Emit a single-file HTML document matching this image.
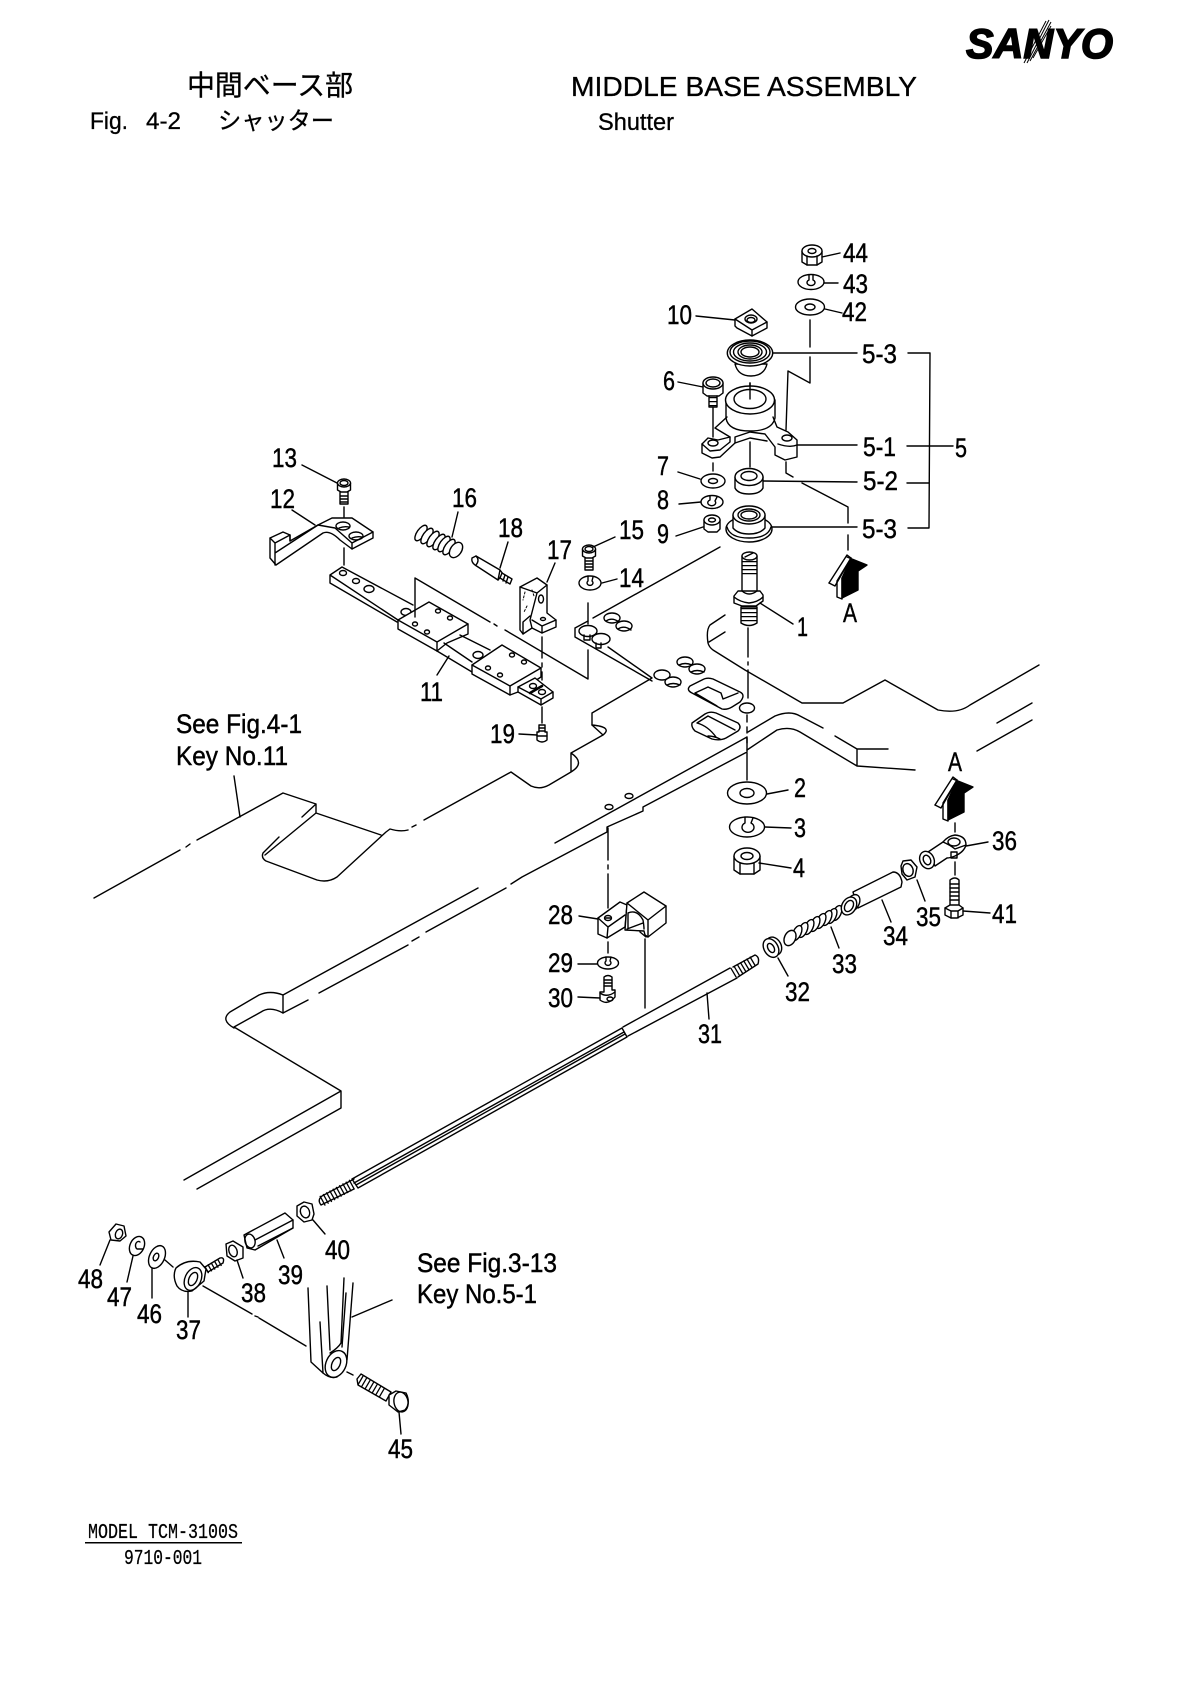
<!DOCTYPE html>
<html><head><meta charset="utf-8"><title>Middle Base Assembly - Shutter</title>
<style>
html,body{margin:0;padding:0;background:#fff}
svg{display:block}
.l{fill:none;stroke:#000;stroke-width:1.4;stroke-linejoin:round;stroke-linecap:round}
.l .w,.w{fill:#fff}
text{font-family:"Liberation Sans","Noto Sans CJK JP",sans-serif;fill:#000;stroke:none}
.n text{font-size:27px;stroke:#000;stroke-width:.45}
.h{stroke:#000;stroke-width:.3}
.m{font-family:"Liberation Mono",monospace;font-size:21px;stroke:#000;stroke-width:.25}
</style></head><body>
<svg xmlns="http://www.w3.org/2000/svg" width="1190" height="1682" viewBox="0 0 1190 1682">

<!-- Header -->
<text class="h" x="187" y="95" font-size="28" textLength="166" lengthAdjust="spacingAndGlyphs">中間ベース部</text>
<text class="h" x="571" y="96" font-size="28" textLength="346" lengthAdjust="spacingAndGlyphs">MIDDLE BASE ASSEMBLY</text>
<text class="h" x="90" y="129" font-size="24" textLength="38" lengthAdjust="spacingAndGlyphs">Fig.</text>
<text class="h" x="146" y="129" font-size="24" textLength="35" lengthAdjust="spacingAndGlyphs">4-2</text>
<text class="h" x="218" y="129" font-size="24" textLength="116" lengthAdjust="spacingAndGlyphs">シャッター</text>
<text class="h" x="598" y="130" font-size="24" textLength="76" lengthAdjust="spacingAndGlyphs">Shutter</text>
<text x="966" y="58" font-size="42" font-weight="bold" font-style="italic" stroke="#000" stroke-width="1.500" style="stroke:#000;stroke-width:1.5" textLength="147" lengthAdjust="spacingAndGlyphs">SANYO</text>
<g stroke="#000" stroke-width="1"><line x1="1024" y1="63" x2="1046" y2="21"/><line x1="1027" y1="63" x2="1049" y2="20"/><line x1="1030" y1="61" x2="1051" y2="22"/><line x1="1033" y1="58" x2="1051" y2="26"/></g>

<g class="l">
<!-- Left base plate -->
<path d="M94,898L180,850M186,847L190,844M197,840L283,793L316,804V813L381,835M316,804L302,817M279,837L263,853Q261,858 266,861L317,880Q328,883 337,877L386,832L390,829Q400,832 408,830M412,827L416,825M424,820L511,772L531,786Q540,790 549,785L571,772V753Q586,763 571,772M571,753L603,735L592,725M316,813L265,855"/>
<path d="M592,713V725Q613,727 603,735M592,713L652,678L608,647M575,628V637L652,681M575,628L588,621M593,618L720,547"/>
<!-- Main diagonal -->
<path d="M747,737L555,843M478,888L283,995V1013L308,1000M319,993L408,945M412,941L419,937M426,932L506,888M511,884L522,877L607,832V827L643,811V807L747,752V737"/>
<path d="M283,995Q270,990 259,995L230,1012Q220,1020 234,1028M283,1013Q270,1006 261,1012L234,1027L341,1091V1108L197,1189M341,1091L184,1180"/>
<!-- Right contour -->
<path d="M725,615L710,625Q706,630 708,643Q709,647 713,650L745,670L802,703H843L885,680L938,710Q958,714 970,705L1039,665M725,632L709,642M1032,703L997,723M1032,720L977,751"/>
<path d="M748,732L775,716Q790,710 800,716L823,728M835,736L857,749H888M747,750L777,730Q790,726 800,732L857,766V749M857,766L915,770"/>
<!-- plate holes -->
<ellipse cx="612" cy="618" rx="8" ry="5"/><path d="M606,621Q612,617 619,622"/>
<ellipse cx="624" cy="626" rx="8" ry="5"/><path d="M618,629Q624,625 631,630"/>
<ellipse cx="588" cy="631" rx="9" ry="5.500"/><ellipse cx="601" cy="639" rx="9" ry="5.500"/>
<path d="M584,635V640H590V635M596,643V648H601V643"/>
<ellipse cx="685" cy="662" rx="8" ry="5"/><ellipse cx="697" cy="669" rx="8" ry="5"/><path d="M679,665Q685,662 692,665M691,672Q697,669 704,672"/>
<ellipse cx="662" cy="675" rx="8" ry="5"/><ellipse cx="673" cy="682" rx="8" ry="5"/><path d="M667,685Q673,682 680,685"/>
<path d="M690,686Q686,690 692,693L722,709Q727,710 732,707L740,702Q746,695 740,692L713,679Q707,677 702,680ZM695,693L708,687L721,693L723,699L738,693M695,693L717,706"/>
<path d="M692,723Q691,727 695,731L712,739Q720,741 726,738L738,731Q742,727 738,723L716,713Q710,711 705,714ZM697,723L708,716L735,730M697,723Q708,726 716,737M708,736Q714,736 720,739"/>
<ellipse cx="609" cy="807" rx="4" ry="2.500"/><ellipse cx="629" cy="796" rx="4" ry="2.500"/>

<!-- Stack centre lines -->
<path d="M810,320V347M810,357V383L788,371L786,430M786,462V473L793,477M802,483L848,507V523M848,535V550"/>
<path d="M750,383V399M750,442V467M713,408V437M713,463V471"/>
<path d="M748,628V657M748,662V665M748,670V698M747,715V722M747,727V733M747,738V743M747,753V780"/>
<path d="M955,823V832M955,862V875M608,828V860M608,865V869M608,874V908M608,942V953M645,939V1008"/>

<!-- 44 43 42 -->
<path class="w" d="M802,251V262L807,265H817L822,262V251Z"/><ellipse class="w" cx="812" cy="251" rx="10" ry="6"/><ellipse cx="812" cy="251" rx="4" ry="2.500"/><path d="M807,256V265M817,256V265"/>
<ellipse cx="811" cy="282" rx="13" ry="7.500"/><path d="M809,275V280A4,3 0 1 0 813,280V275"/>
<ellipse cx="810" cy="307" rx="14.500" ry="8"/><ellipse cx="810" cy="307" rx="5" ry="3"/>
<path d="M822,257L840,253M824,283L838,283M825,309L842,313"/>

<!-- 10 -->
<path class="w" d="M735,319L752,309L767,322V328L752,336L737,328L735,326Z"/>
<path d="M735,319L752,330L767,322M752,330V336"/><ellipse cx="751" cy="319" rx="6" ry="4"/><ellipse cx="751" cy="320" rx="4" ry="2.500"/>
<path d="M696,316L735,320"/>

<!-- 5-3 top -->
<path class="w" d="M735,364Q738,376 751,376Q764,376 767,364Z"/>
<ellipse class="w" cx="750" cy="353" rx="22.700" ry="13"/><ellipse cx="750" cy="352" rx="20" ry="11"/><ellipse cx="750" cy="352" rx="16.500" ry="9"/><ellipse cx="750" cy="352" rx="12" ry="7"/><ellipse cx="750" cy="352" rx="9" ry="5"/>
<path d="M773,353L857,353"/>

<!-- 5-1 -->
<path class="w" d="M726,400V418Q728,431 750,431Q772,431 775,418V400Z"/>
<ellipse class="w" cx="750" cy="400" rx="24.500" ry="14"/><ellipse cx="750" cy="399" rx="16" ry="9.500"/>
<path d="M750,383V399"/>
<path d="M727,417L715,428L730,437V442L720,450L710,451L702,444V453L712,458L720,457L735,443V437L750,432L765,434L775,447V455L785,460L797,457V440L788,432L777,427L773,417"/>
<path d="M702,444L708,438L718,440L730,437M735,443L750,438L767,441M797,445Q790,448 778,444"/>
<ellipse cx="787" cy="438" rx="5" ry="3"/><ellipse cx="713" cy="443" rx="5" ry="3"/>
<path d="M797,445L857,445"/>

<!-- 6 -->
<path class="w" d="M703,383V393L707,396H719L723,393V383Z"/><ellipse class="w" cx="713" cy="383" rx="10" ry="6"/><ellipse cx="713" cy="383" rx="7" ry="4"/>
<path d="M709,396V407H717V396"/><line x1="713" y1="397" x2="713" y2="407" stroke-width="9" stroke-dasharray="1.300 2.700" stroke-linecap="butt"/>
<path d="M678,382L703,387"/>

<!-- 7 8 9 -->
<ellipse cx="713" cy="481" rx="12" ry="7"/><ellipse cx="713" cy="481" rx="4.500" ry="2.500"/>
<ellipse cx="712" cy="502" rx="11" ry="6.500"/><path d="M710,496V500A4,3 0 1 0 715,501L717,497"/>
<path class="w" d="M704,520V529L708,532H717L720,529V520Z"/><ellipse class="w" cx="712" cy="520" rx="8" ry="5"/><ellipse cx="712" cy="520" rx="3.500" ry="2"/>
<path d="M678,472L700,479M679,504L701,502M676,536L703,527"/>

<!-- 5-2 -->
<path class="w" d="M735,477V488Q738,494 749,494Q760,494 763,488V477Z"/><ellipse class="w" cx="749" cy="477" rx="14" ry="8.500"/><ellipse cx="749" cy="476" rx="8" ry="4.500"/>
<path d="M763,481L857,482"/>

<!-- 5-3 bottom -->
<ellipse class="w" cx="749" cy="529" rx="23" ry="13"/><path d="M727,527Q730,538 749,538Q768,538 771,527"/>
<path class="w" d="M733,515V528Q738,534 749,534Q760,534 765,528V515Z"/><ellipse class="w" cx="749" cy="515" rx="16" ry="9"/><ellipse cx="749" cy="515" rx="11" ry="6"/><ellipse cx="749" cy="515" rx="8" ry="4"/>
<path d="M772,527L857,527"/>

<!-- bracket -->
<path d="M908,353H930L929,528H908M907,446H953M907,483H929"/>

<!-- Stud 1 -->
<path class="w" d="M742,556V593H757V556Z"/><ellipse class="w" cx="749.500" cy="556" rx="7.500" ry="4"/><path d="M745,557L753,553"/>
<line x1="749.500" y1="561" x2="749.500" y2="577" stroke-width="14" stroke-dasharray="1.300 2.700" stroke-linecap="butt"/>
<path class="w" d="M741,607V623Q749,628 757,623V607Z"/>
<line x1="749" y1="608" x2="749" y2="624" stroke-width="15" stroke-dasharray="1.300 2.700" stroke-linecap="butt"/>
<path class="w" d="M734,596L738,591H760L763,595V601L756,606H742L734,603Z"/><path d="M734,597Q740,602 749,603Q758,602 763,597M742,591Q749,597 757,591"/>
<path d="M760,603L793,624"/>
<ellipse cx="747" cy="708" rx="7.500" ry="5"/>

<!-- 2 3 4 -->
<ellipse cx="747" cy="793" rx="19.500" ry="11"/><ellipse cx="747" cy="793" rx="7" ry="4.500"/>
<ellipse cx="747" cy="827" rx="17.500" ry="10"/><path d="M745,817V823A6,5 0 1 0 751,823L753,818"/>
<path class="w" d="M734,856V870L740,874H754L760,870V856Z"/><ellipse class="w" cx="747" cy="856" rx="13" ry="8"/><ellipse cx="747" cy="856" rx="6" ry="3.500"/><path d="M740,863V874M754,863V874"/>
<path d="M767,794L788,790M765,827L791,828M759,863L791,868"/>

<!-- 13 -->
<path class="w" d="M337.500,483V490L341,492H347L350.500,490V483Z"/><ellipse class="w" cx="344" cy="483" rx="6.500" ry="4"/><ellipse cx="344" cy="483" rx="4" ry="2.500"/>
<path d="M340,492V504H348V492M340,496H348M340,499H348M340,502H348M302,465L337,483M344,507V517M344,548V565"/>

<!-- 12 -->
<path class="w" d="M270,538L283,532L290,535V541L318,525L332,518H352L373,532V538L352,549L340,540Q330,530 323,533L276,565L270,558Z"/>
<path d="M270,538L275,543V565M275,543L290,535M275,553L318,525M373,532L352,543L335,528L318,525M352,543V549M290,541L290,535"/>
<ellipse cx="343" cy="526" rx="7" ry="4"/><ellipse cx="356" cy="536" rx="7" ry="4"/><path d="M339,528Q344,526 349,527M352,538Q357,536 362,537"/>
<path d="M292,510L315,525"/>

<!-- 11 rail -->
<path d="M330,575L342,567L413,605M330,575V583L397,622M330,575L398,620"/>
<ellipse cx="343" cy="573" rx="3.500" ry="2.500"/><ellipse cx="356" cy="581" rx="3.500" ry="2.500"/><ellipse cx="369" cy="589" rx="5" ry="3.500"/><ellipse cx="406" cy="612" rx="5" ry="3.500"/>
<path class="w" d="M398,620L429,602L468,624V634L447,643L437,651L398,629Z"/><path d="M398,620L437,642L468,624M437,642V651"/>
<ellipse cx="415" cy="624" rx="2.500" ry="2"/><ellipse cx="427" cy="632" rx="2.500" ry="2"/><ellipse cx="438" cy="611" rx="2.500" ry="2"/><ellipse cx="450" cy="618" rx="2.500" ry="2"/>
<path d="M444,643L472,662M437,651L472,672M460,635L490,650"/><ellipse cx="478" cy="655" rx="5" ry="3.500"/>
<path class="w" d="M472,665L502,645L541,668V677L518,692L510,695L472,674Z"/><path d="M472,665L510,686L541,668M510,686V695"/>
<ellipse cx="488" cy="668" rx="2.500" ry="2"/><ellipse cx="500" cy="675" rx="2.500" ry="2"/><ellipse cx="512" cy="655" rx="2.500" ry="2"/><ellipse cx="524" cy="662" rx="2.500" ry="2"/>
<path class="w" d="M518,687L535,678L553,692V698L541,705L518,692Z"/><path d="M518,687L541,699L553,692M541,699V705"/>
<ellipse cx="533" cy="686" rx="3.500" ry="2.500"/><ellipse cx="542" cy="692" rx="3.500" ry="2.500"/>
<path d="M530,693L542,686" stroke-width="2.600"/>
<path d="M449,656L437,675"/>
<path d="M415,617V578L490,622M494,624L497,626M505,630L588,679V650M542,637V658M542,663V667M542,672V680M542,707V723"/>

<!-- 19 -->
<path class="w" d="M539,725H545V732H547V740Q542,744 537,740V732H539Z"/><path d="M539,728H545M539,731H545M537,736H547"/><path d="M519,734L537,735"/>

<!-- 16 spring -->
<g class="w">
<ellipse cx="421" cy="533" rx="4" ry="9" transform="rotate(35 421 533)"/><ellipse cx="427" cy="536" rx="4" ry="9" transform="rotate(35 427 536)"/><ellipse cx="433" cy="539" rx="4" ry="9" transform="rotate(35 433 539)"/><ellipse cx="439" cy="542" rx="4" ry="9" transform="rotate(35 439 542)"/><ellipse cx="444" cy="544" rx="4" ry="9" transform="rotate(35 444 544)"/><ellipse cx="449" cy="547" rx="4" ry="9" transform="rotate(35 449 547)"/><ellipse cx="456" cy="550" rx="5.500" ry="8.500" transform="rotate(35 456 550)"/>
</g>
<path d="M458,512L452,537"/>

<!-- 18 -->
<path class="w" d="M472,558L476,556L500,570L503,574L498,580L475,565Q471,562 472,558Z"/><path d="M476,556Q480,560 476,565M500,570L498,580"/><path class="w" d="M502,573L512,579L510,584L500,578Z"/><path d="M505,575L503,581M508,577L506,583"/><path d="M508,542L500,568"/>

<!-- 17 -->
<path class="w" d="M520,587L537,578L547,585V613L556,620V627L542,633L532,628L523,634L520,630Z"/>
<path d="M537,593L547,585M520,587L537,593L530,620L532,628M532,620L542,626L556,620M542,626V633M523,634V622L530,616"/>
<ellipse cx="541" cy="599" rx="2.500" ry="4"/><ellipse cx="543" cy="619" rx="2.500" ry="1.500"/>
<path d="M525,592L523,600M527,606L524,612M532,590L534,596" stroke-width="1" stroke-dasharray="2 2"/>
<path d="M547,582L555,563"/>

<!-- 15 14 -->
<path class="w" d="M582.500,549V556L586,558H592L595.500,556V549Z"/><ellipse class="w" cx="589" cy="549" rx="6.500" ry="4"/><ellipse cx="589" cy="549" rx="4" ry="2.500"/>
<path d="M585,558V570H593V558M585,561H593M585,564H593M585,567H593M593,547L615,537"/>
<ellipse cx="590" cy="583" rx="11" ry="7"/><path d="M588,576V581A3,2.500 0 1 0 592,581L593,577M602,583L617,579M588,603V624"/>

<!-- arrows -->
<path d="M829,583L847,555L851,558L837,581V597L842,599V578" class="w"/>
<path d="M847,557L867,565L858,571V590L842,598V578L851,558Z" fill="#000"/>
<path d="M829,583L835,586L851,558"/>
<g transform="translate(106,222)">
<path d="M829,583L847,555L851,558L837,581V597L842,599V578" class="w"/>
<path d="M847,557L867,565L858,571V590L842,598V578L851,558Z" fill="#000"/>
<path d="M829,583L835,586L851,558"/>
</g>

<!-- 28 -->
<path class="w" d="M598,918L620,902L627,905L625,927L607,938L598,934Z"/>
<path d="M598,918L608,927L625,915M608,927L607,938"/><ellipse cx="608" cy="918" rx="3.500" ry="2.500"/><path d="M605,918H611"/>
<path class="w" d="M627,903L644,892L666,906V923L648,937L645,935L644,931L625,930Z"/>
<path d="M627,903L648,920L666,906M648,920V937"/>
<path d="M628,913Q637,909 643,920Q644,926 644,929M628,913V928M627,929L643,923M640,932L646,937"/>
<path d="M579,916L598,919"/>
<!-- 29 30 -->
<ellipse cx="608" cy="963" rx="10.500" ry="6"/><path d="M606,957V961A3,2.500 0 1 0 610,961L611,957"/>
<path class="w" d="M604,977Q608,974 612,977V990H615V997Q608,1006 600,1000V992H604Z"/><path d="M604,980H612M604,983H612M604,986H612M600,993Q607,998 615,992"/><ellipse cx="610" cy="999" rx="3" ry="2"/>
<path d="M578,964L597,964M578,997L600,998"/>

<!-- Rod 31 -->
<path d="M730,968L623,1027M737,978L628,1036"/>
<path d="M622,1028L352,1179M627,1037L358,1188M622,1028L627,1037M624,1032L354,1183M352,1179L358,1188M356,1185L625,1034"/>
<line x1="733" y1="973" x2="755" y2="960" stroke-width="11" stroke-dasharray="1.300 2.400" stroke-linecap="butt"/>
<path d="M733,967L755,955Q760,957 758,964L738,977"/>
<path d="M707,993L709,1019"/>
<line x1="322" y1="1201" x2="353" y2="1184" stroke-width="11" stroke-dasharray="1.300 2.400" stroke-linecap="butt"/>
<path d="M354,1179L322,1196Q317,1200 321,1205L354,1189"/>

<!-- 32 -->
<ellipse class="w" cx="774" cy="946" rx="7" ry="9.500" transform="rotate(-30 774 946)"/>
<ellipse class="w" cx="771" cy="948" rx="7" ry="10" transform="rotate(-30 771 948)"/>
<ellipse cx="771" cy="948" rx="3" ry="5" transform="rotate(-30 771 948)"/>
<path d="M778,958L788,976"/>

<!-- 33 spring, right to left -->
<g class="w">
<ellipse cx="837" cy="913" rx="4" ry="8" transform="rotate(25 837 913)"/><ellipse cx="832" cy="916" rx="4" ry="8" transform="rotate(25 832 916)"/><ellipse cx="827" cy="918" rx="4" ry="8" transform="rotate(25 827 918)"/><ellipse cx="821" cy="921" rx="4" ry="8" transform="rotate(25 821 921)"/><ellipse cx="815" cy="924" rx="4" ry="8" transform="rotate(25 815 924)"/><ellipse cx="809" cy="927" rx="4" ry="8" transform="rotate(25 809 927)"/><ellipse cx="803" cy="930" rx="4" ry="8" transform="rotate(25 803 930)"/><ellipse cx="797" cy="933" rx="4" ry="8" transform="rotate(25 797 933)"/><ellipse cx="790" cy="938" rx="5.500" ry="8" transform="rotate(25 790 938)"/>
</g>
<path d="M831,927L839,948"/>

<!-- 34 -->
<path class="w" d="M853,892L893,872Q900,872 902,882L901,887L858,908Z"/>
<ellipse class="w" cx="853" cy="903" rx="6" ry="9" transform="rotate(30 853 903)"/>
<ellipse class="w" cx="849" cy="906" rx="7" ry="9.500" transform="rotate(30 849 906)"/>
<ellipse cx="849" cy="906" rx="4" ry="6" transform="rotate(30 849 906)"/>
<path d="M882,900L891,922"/>

<!-- 35 -->
<path class="w" d="M903,861L911,860L917,867L915,877L907,880L902,874L901,866Z"/><ellipse cx="908" cy="870" rx="5" ry="6.500" transform="rotate(-20 908 870)"/>
<path d="M917,880L925,901"/>

<!-- 36 -->
<path class="w" d="M928,852L943,842Q948,836 955,835Q966,836 966,845Q964,852 955,856Q950,858 947,858L935,866Z"/>
<ellipse class="w" cx="927" cy="860" rx="7" ry="9" transform="rotate(-25 927 860)"/><ellipse cx="927" cy="860" rx="3.500" ry="5" transform="rotate(-25 927 860)"/>
<ellipse cx="954" cy="842" rx="6" ry="4"/><path d="M943,842Q950,845 955,849L966,845M951,852V858H957V852Z"/>
<path d="M966,846L988,842"/>
<!-- 41 -->
<path class="w" d="M950,880Q955,876 959,880V906H950Z"/><path d="M950,884H959M950,888H959M950,892H959M950,896H959M950,900H959"/>
<path class="w" d="M945,908L950,905H959L963,908V915L957,918H951L945,915Z"/><path d="M945,908L951,911H958L963,908M951,911V918M958,911V918"/>
<path d="M963,911L990,913"/>

<!-- lower assembly -->
<path class="w" d="M297,1206L304,1202L312,1204L314,1214L312,1220L304,1222L297,1216Z"/><ellipse cx="305" cy="1212" rx="4.500" ry="6" transform="rotate(-20 305 1212)"/>
<path d="M313,1220L325,1234"/>
<path class="w" d="M244,1235L285,1213L293,1220V1228L255,1250L247,1248Z"/>
<ellipse cx="250" cy="1241" rx="5" ry="7" transform="rotate(-15 250 1241)"/><path d="M255,1240L293,1220M258,1246L293,1228"/>
<path d="M277,1240L284,1258"/>
<path class="w" d="M226,1244L233,1241L243,1247L243,1258L235,1261L227,1256Z"/><ellipse cx="233" cy="1251" rx="4" ry="6" transform="rotate(-20 233 1251)"/>
<path d="M237,1260L243,1278"/>

<path class="w" d="M205,1267L220,1258Q225,1257 223,1263L208,1272Z"/>
<line x1="206" y1="1270" x2="222" y2="1261" stroke-width="8" stroke-dasharray="1.300 2.400" stroke-linecap="butt"/>
<path class="w" d="M176,1268Q186,1259 200,1262L206,1269L204,1281L192,1291Q182,1293 177,1286Q172,1276 176,1268Z"/>
<ellipse cx="193" cy="1279" rx="8" ry="12" transform="rotate(25 193 1279)"/><ellipse cx="193" cy="1279" rx="4" ry="7" transform="rotate(25 193 1279)"/>
<path d="M188,1292L188,1317"/>

<ellipse cx="157" cy="1257" rx="7.500" ry="12" transform="rotate(25 157 1257)"/><ellipse cx="156" cy="1257" rx="2.500" ry="4" transform="rotate(25 156 1257)"/>
<path d="M152,1268L152,1298M165,1260L173,1267"/>
<ellipse cx="137" cy="1246" rx="7" ry="10" transform="rotate(25 137 1246)"/><path d="M143,1249L137,1249A3,4 0 1 1 140,1242"/>
<path d="M133,1256L127,1282"/>
<path class="w" d="M109,1232L116,1224L124,1226L126,1236L120,1241L111,1240Z"/><ellipse cx="119" cy="1234" rx="3.500" ry="5" transform="rotate(20 119 1234)"/>
<path d="M110,1240L100,1265"/>

<path d="M203,1286L252,1314M255,1316L258,1317M259,1318L306,1346"/>
<path d="M308,1288L311,1362L323,1373M327,1286L330,1350M344,1278L341,1343Q338,1348 330,1353M346,1293L342,1347M353,1283L347,1360M320,1322L323,1373"/>
<ellipse class="w" cx="336" cy="1364" rx="10" ry="14" transform="rotate(25 336 1364)"/><ellipse cx="336" cy="1364" rx="4" ry="7" transform="rotate(25 336 1364)"/>
<path d="M323,1373Q330,1379 337,1377M352,1317L392,1300M347,1372L353,1375"/>

<path class="w" d="M357,1379L361,1374L391,1392L386,1401L358,1385Z"/>
<line x1="360" y1="1380" x2="384" y2="1394" stroke-width="10" stroke-dasharray="1.300 2.800" stroke-linecap="butt"/>
<path class="w" d="M389,1395L396,1391L406,1393Q411,1403 405,1410L398,1412L389,1405Z"/><ellipse cx="401" cy="1402" rx="7" ry="10" transform="rotate(-10 401 1402)"/>
<path d="M399,1412L401,1434"/>

<!-- see-fig leader -->
<path d="M234,776L240,817"/>
</g>

<!-- Model block -->
<text class="m" x="88" y="1538" textLength="150" lengthAdjust="spacingAndGlyphs">MODEL TCM-3100S</text>
<rect x="85" y="1542" width="157" height="1.500" fill="#000"/>
<text class="m" x="124" y="1564" textLength="78" lengthAdjust="spacingAndGlyphs">9710-001</text>

<!-- Reference labels -->
<g class="n">
<text x="843" y="262" textLength="25" lengthAdjust="spacingAndGlyphs">44</text>
<text x="843" y="293" textLength="25" lengthAdjust="spacingAndGlyphs">43</text>
<text x="842" y="321" textLength="25" lengthAdjust="spacingAndGlyphs">42</text>
<text x="667" y="324" textLength="25" lengthAdjust="spacingAndGlyphs">10</text>
<text x="862" y="363" textLength="35" lengthAdjust="spacingAndGlyphs">5-3</text>
<text x="663" y="390" textLength="12" lengthAdjust="spacingAndGlyphs">6</text>
<text x="863" y="456" textLength="33" lengthAdjust="spacingAndGlyphs">5-1</text>
<text x="955" y="457" textLength="12" lengthAdjust="spacingAndGlyphs">5</text>
<text x="657" y="475" textLength="12" lengthAdjust="spacingAndGlyphs">7</text>
<text x="863" y="490" textLength="35" lengthAdjust="spacingAndGlyphs">5-2</text>
<text x="657" y="509" textLength="12" lengthAdjust="spacingAndGlyphs">8</text>
<text x="657" y="543" textLength="12" lengthAdjust="spacingAndGlyphs">9</text>
<text x="862" y="538" textLength="35" lengthAdjust="spacingAndGlyphs">5-3</text>
<text x="272" y="467" textLength="25" lengthAdjust="spacingAndGlyphs">13</text>
<text x="270" y="508" textLength="25" lengthAdjust="spacingAndGlyphs">12</text>
<text x="452" y="507" textLength="25" lengthAdjust="spacingAndGlyphs">16</text>
<text x="498" y="537" textLength="25" lengthAdjust="spacingAndGlyphs">18</text>
<text x="547" y="559" textLength="25" lengthAdjust="spacingAndGlyphs">17</text>
<text x="619" y="539" textLength="25" lengthAdjust="spacingAndGlyphs">15</text>
<text x="619" y="587" textLength="25" lengthAdjust="spacingAndGlyphs">14</text>
<text x="420" y="701" textLength="23" lengthAdjust="spacingAndGlyphs">11</text>
<text x="490" y="743" textLength="25" lengthAdjust="spacingAndGlyphs">19</text>
<text x="797" y="636" textLength="11" lengthAdjust="spacingAndGlyphs">1</text>
<text x="843" y="622" textLength="14" lengthAdjust="spacingAndGlyphs">A</text>
<text x="794" y="797" textLength="12" lengthAdjust="spacingAndGlyphs">2</text>
<text x="794" y="837" textLength="12" lengthAdjust="spacingAndGlyphs">3</text>
<text x="793" y="877" textLength="12" lengthAdjust="spacingAndGlyphs">4</text>
<text x="948" y="771" textLength="14" lengthAdjust="spacingAndGlyphs">A</text>
<text x="992" y="850" textLength="25" lengthAdjust="spacingAndGlyphs">36</text>
<text x="548" y="924" textLength="25" lengthAdjust="spacingAndGlyphs">28</text>
<text x="548" y="972" textLength="25" lengthAdjust="spacingAndGlyphs">29</text>
<text x="548" y="1007" textLength="25" lengthAdjust="spacingAndGlyphs">30</text>
<text x="698" y="1043" textLength="24" lengthAdjust="spacingAndGlyphs">31</text>
<text x="785" y="1001" textLength="25" lengthAdjust="spacingAndGlyphs">32</text>
<text x="832" y="973" textLength="25" lengthAdjust="spacingAndGlyphs">33</text>
<text x="883" y="945" textLength="25" lengthAdjust="spacingAndGlyphs">34</text>
<text x="916" y="926" textLength="25" lengthAdjust="spacingAndGlyphs">35</text>
<text x="992" y="923" textLength="25" lengthAdjust="spacingAndGlyphs">41</text>
<text x="325" y="1259" textLength="25" lengthAdjust="spacingAndGlyphs">40</text>
<text x="278" y="1284" textLength="25" lengthAdjust="spacingAndGlyphs">39</text>
<text x="241" y="1302" textLength="25" lengthAdjust="spacingAndGlyphs">38</text>
<text x="78" y="1288" textLength="25" lengthAdjust="spacingAndGlyphs">48</text>
<text x="107" y="1306" textLength="25" lengthAdjust="spacingAndGlyphs">47</text>
<text x="137" y="1323" textLength="25" lengthAdjust="spacingAndGlyphs">46</text>
<text x="176" y="1339" textLength="25" lengthAdjust="spacingAndGlyphs">37</text>
<text x="388" y="1458" textLength="25" lengthAdjust="spacingAndGlyphs">45</text>
<text x="417" y="1272" textLength="140" lengthAdjust="spacingAndGlyphs">See Fig.3-13</text>
<text x="417" y="1303" textLength="120" lengthAdjust="spacingAndGlyphs">Key No.5-1</text>
<text x="176" y="733" textLength="126" lengthAdjust="spacingAndGlyphs">See Fig.4-1</text>
<text x="176" y="765" textLength="112" lengthAdjust="spacingAndGlyphs">Key No.11</text>
</g>
</svg>
</body></html>
